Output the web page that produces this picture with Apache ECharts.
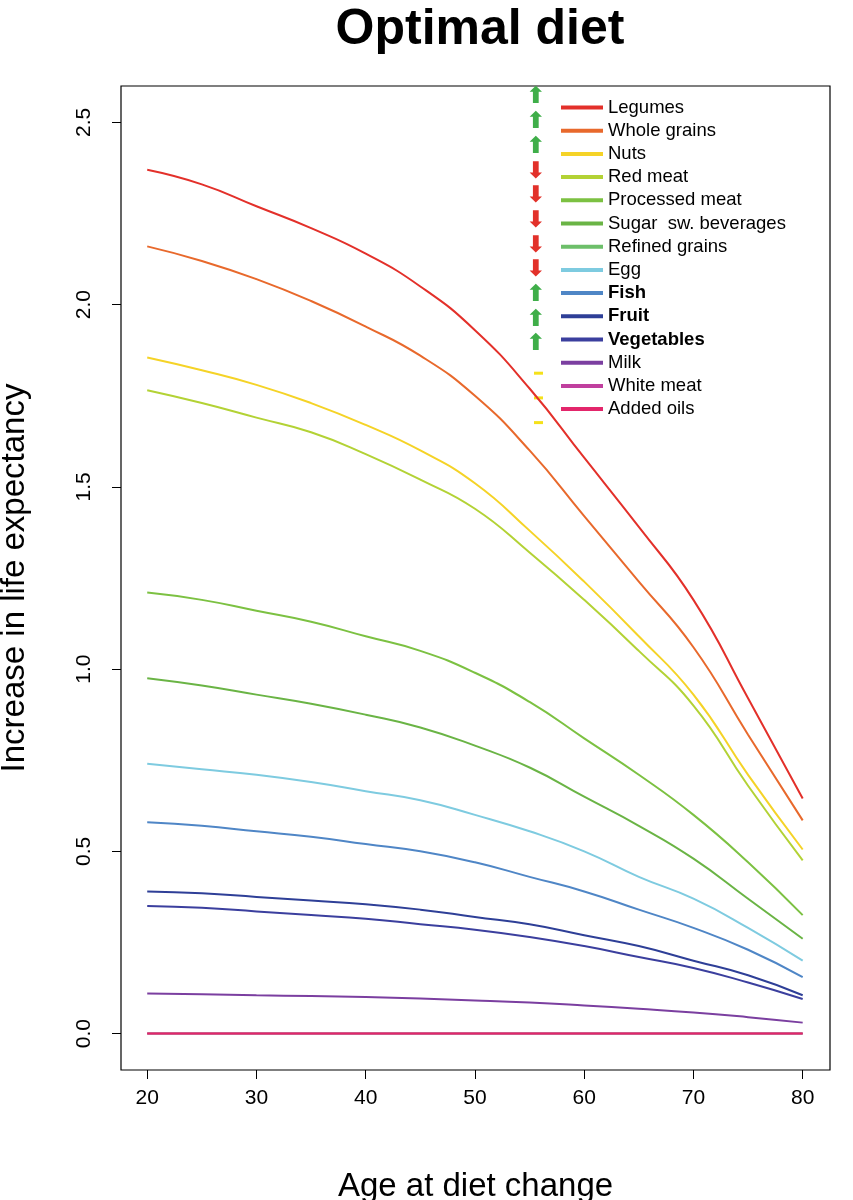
<!DOCTYPE html>
<html><head><meta charset="utf-8">
<script src="https://cdn.jsdelivr.net/npm/echarts@6/dist/echarts.min.js"></script>
<style>html,body{margin:0;background:#fff}#c{width:853px;height:1200px}</style>
</head><body><div id="c"></div>
<script>
var ages = [20,25,30,35,40,45,50,55,60,65,70,75,80];
var names = ['Legumes','Whole grains','Nuts','Red meat','Processed meat','Sugar  sw. beverages','Refined grains','Egg','Fish','Fruit','Vegetables','Milk','White meat','Added oils'];
var colors = ['#e3302a','#e8692c','#f5d327','#b3d235','#7cc142','#6ab445','#6dbf6a','#7ecbe0','#4f86c6','#2e3f97','#3b3f9e','#7b3fa0','#c03f9e','#e3266b'];
var arrows = ['up','up','up','down','down','down','down','down','up','up','up','none','none','none'];
var vals = [
 [2.37,2.33,2.27,2.21,2.14,2.05,1.93,1.77,1.58,1.39,1.19,0.92,0.645],
 [2.16,2.12,2.07,2.01,1.94,1.86,1.75,1.60,1.42,1.24,1.06,0.82,0.585],
 [1.855,1.82,1.78,1.73,1.67,1.60,1.51,1.38,1.24,1.09,0.93,0.71,0.505],
 [1.765,1.73,1.69,1.65,1.59,1.52,1.44,1.32,1.19,1.05,0.90,0.68,0.475],
 [1.21,1.19,1.16,1.13,1.09,1.05,0.99,0.91,0.81,0.71,0.60,0.47,0.325],
 [0.975,0.955,0.93,0.905,0.875,0.84,0.79,0.73,0.65,0.57,0.48,0.37,0.26],
 [0,0,0,0,0,0,0,0,0,0,0,0,0],
 [0.74,0.725,0.71,0.69,0.665,0.64,0.60,0.555,0.50,0.43,0.37,0.29,0.20],
 [0.58,0.57,0.555,0.54,0.52,0.50,0.47,0.43,0.39,0.34,0.29,0.23,0.155],
 [0.39,0.385,0.375,0.365,0.355,0.34,0.32,0.30,0.27,0.24,0.20,0.16,0.105],
 [0.35,0.345,0.335,0.325,0.315,0.30,0.285,0.265,0.24,0.21,0.18,0.14,0.095],
 [0.11,0.108,0.105,0.103,0.10,0.096,0.091,0.085,0.077,0.068,0.058,0.045,0.03],
 [0,0,0,0,0,0,0,0,0,0,0,0,0],
 [0,0,0,0,0,0,0,0,0,0,0,0,0]
];
var xTicks = [20,30,40,50,60,70,80];
var yTicks = [0,0.5,1,1.5,2,2.5];
var yLabels = ['0.0','0.5','1.0','1.5','2.0','2.5'];
var bold = ['Fish','Fruit','Vegetables'];

var chart = echarts.init(document.getElementById('c'));
var series = names.map(function(n,i){
  return {name:n,type:'line',smooth:true,symbol:'none',color:colors[i],
    lineStyle:{width:2,color:colors[i]},
    data:ages.map(function(a,j){return [a,vals[i][j]];})};
});
var graphic = arrows.map(function(a,i){
  var y = 99 + i*24.7;
  if(a==='none') return {type:'rect',shape:{x:534,y:y+1,width:9,height:3},style:{fill:'#f5e11a'}};
  return {type:'text',left:526,top:y-13,style:{text:a==='up'?'⬆':'⬇',fill:a==='up'?'#3fae49':'#e2312a',font:'bold 23px DejaVu Sans'}};
});
chart.setOption({
  animation:false,
  title:{text:'Optimal diet',left:475,textAlign:'center',top:0,textStyle:{fontSize:50,fontWeight:'bold',color:'#000',fontFamily:'Liberation Sans'}},
  grid:{left:121,right:23,top:86,bottom:130,outerBoundsMode:'none',containLabel:false,show:true,borderColor:'#000',borderWidth:1.2},
  legend:{orient:'vertical',left:556,top:93,itemGap:4.2,itemWidth:42,itemHeight:4,icon:'rect',
    data:names,textStyle:{fontSize:18.5,color:'#000',fontFamily:'Liberation Sans',rich:{b:{fontSize:18.5,fontWeight:'bold',fontFamily:'Liberation Sans'}}},
    formatter:function(n){return bold.indexOf(n)>=0?'{b|'+n+'}':n;}},
  xAxis:{type:'value',min:17.6,max:82.5,name:'Age at diet change',nameLocation:'middle',nameGap:100,
    nameTextStyle:{fontSize:33,color:'#000',fontFamily:'Liberation Sans'},
    axisLine:{show:false,onZero:false},splitLine:{show:false},
    axisTick:{show:true,inside:false,length:9,lineStyle:{color:'#000'},customValues:xTicks},
    axisLabel:{fontSize:21,color:'#000',margin:18,fontFamily:'Liberation Sans',customValues:xTicks}},
  yAxis:{type:'value',min:-0.1,max:2.6,name:'Increase in life expectancy',nameLocation:'middle',nameGap:90,
    nameTextStyle:{fontSize:33,color:'#000',fontFamily:'Liberation Sans'},
    axisLine:{show:false,onZero:false},splitLine:{show:false},
    axisTick:{show:true,inside:false,length:9,lineStyle:{color:'#000'},customValues:yTicks},
    axisLabel:{fontSize:21,color:'#000',rotate:90,margin:26,fontFamily:'Liberation Sans',customValues:yTicks,
      formatter:function(v){var k=yTicks.indexOf(v);return k>=0?yLabels[k]:'';}}},
  graphic:graphic,
  series:series
});
</script></body></html>
